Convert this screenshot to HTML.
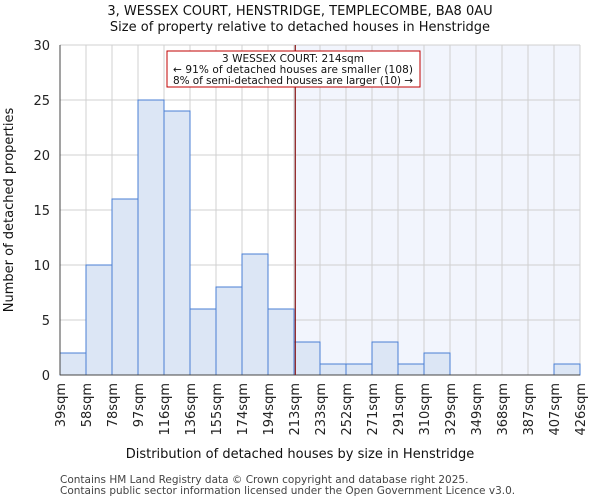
<!DOCTYPE html>
<html><head><meta charset="utf-8"><style>
body{margin:0;background:#fff;font-family:"DejaVu Sans","Liberation Sans",sans-serif}
</style></head><body>
<svg id="c" width="600" height="500" xmlns="http://www.w3.org/2000/svg"></svg>
<script>
const categories=["39sqm","58sqm","78sqm","97sqm","116sqm","136sqm","155sqm","174sqm","194sqm","213sqm","233sqm","252sqm","271sqm","291sqm","310sqm","329sqm","349sqm","368sqm","387sqm","407sqm","426sqm"];
const counts=[2,10,16,25,24,6,8,11,6,3,1,1,3,1,2,0,0,0,0,1];
const yTicks=[0,5,10,15,20,25,30];
const highlightStartBin=9;
const markerBin=9.05;
const NS="http://www.w3.org/2000/svg";
const svg=document.getElementById('c');
const L=60,R=580,T=45,B=375,yMax=30;
const bw=(R-L)/counts.length;
const x=i=>L+i*bw;
const y=v=>B-(B-T)*v/yMax;
function el(t,a,txt){const e=document.createElementNS(NS,t);for(const k in a)e.setAttribute(k,a[k]);if(txt!==undefined)e.textContent=txt;svg.appendChild(e);return e;}
let e;
e=el('rect',{x:x(highlightStartBin),y:T,width:R-x(highlightStartBin),height:B-T,fill:'#f2f5fd'});


for(let i=0;i<=counts.length;i++){e=el('line',{x1:x(i),x2:x(i),y1:T,y2:B,stroke:'#d0d0d0','stroke-width':1});

}
yTicks.forEach(v=>{e=el('line',{x1:L,x2:R,y1:y(v),y2:y(v),stroke:'#d0d0d0','stroke-width':1});


e=el('text',{x:L-10,y:y(v)+5,'text-anchor':'end','font-size':13,fill:'#222'},v);

});
counts.forEach((c,i)=>{if(c<=0)return;e=el('rect',{x:x(i),y:y(c),width:bw,height:B-y(c),fill:'#dce6f5',stroke:'#4a7fd4','stroke-width':1});

});
categories.forEach((c,i)=>{e=el('text',{transform:`translate(${x(i)+5},${B+8}) rotate(-90)`,'text-anchor':'end','font-size':13,fill:'#222'},c);

});
e=el('line',{x1:L,x2:L,y1:T,y2:B,stroke:'#444'});


e=el('line',{x1:L,x2:R,y1:B,y2:B,stroke:'#444'});


e=el('line',{x1:x(markerBin),x2:x(markerBin),y1:T,y2:B,stroke:'#8b1a1a','stroke-width':1.2});


e=el('rect',{x:167,y:51,width:253,height:36,fill:'#fff',stroke:'#c00000','stroke-width':1});


[["3 WESSEX COURT: 214sqm",61],["← 91% of detached houses are smaller (108)",72],["8% of semi-detached houses are larger (10) →",83]].forEach(a=>{e=el('text',{x:293,y:a[1]+1,'text-anchor':'middle','font-size':10.5,'textLength':a[0].length>30?240:0,fill:'#111'},a[0]);
if(a[0].length<=30)e.removeAttribute('textLength');

});
e=el('text',{x:300,y:15,'text-anchor':'middle','font-size':13,fill:'#111'},'3, WESSEX COURT, HENSTRIDGE, TEMPLECOMBE, BA8 0AU');


e=el('text',{x:300,y:31,'text-anchor':'middle','font-size':13,fill:'#111'},'Size of property relative to detached houses in Henstridge');


e=el('text',{x:300,y:458,'text-anchor':'middle','font-size':13,fill:'#111'},'Distribution of detached houses by size in Henstridge');


e=el('text',{transform:'translate(13,210) rotate(-90)','text-anchor':'middle','font-size':13,fill:'#111'},'Number of detached properties');


e=el('text',{x:60,y:483,'font-size':10.5,fill:'#444'},'Contains HM Land Registry data © Crown copyright and database right 2025.');


e=el('text',{x:60,y:494,'font-size':10.5,fill:'#444'},'Contains public sector information licensed under the Open Government Licence v3.0.');


</script>
</body></html>
